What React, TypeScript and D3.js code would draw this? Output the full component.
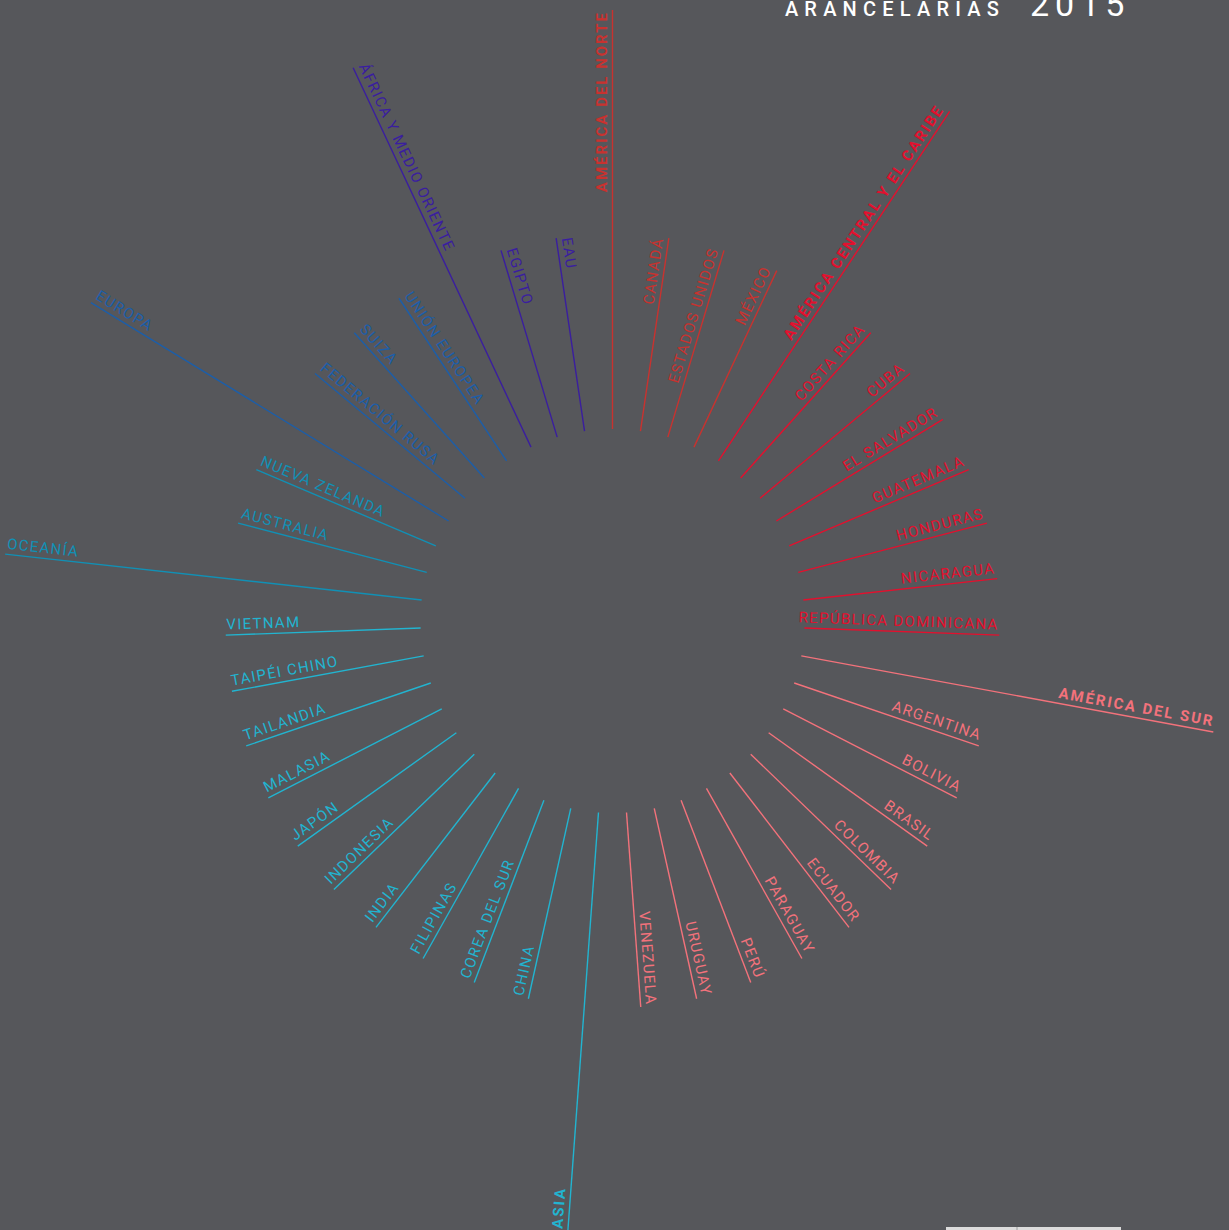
import React from 'react';
import * as d3 from 'd3';

// spokes, clockwise from the top
const labels = [
  'AMÉRICA DEL NORTE', 'CANADÁ', 'ESTADOS UNIDOS', 'MÉXICO',
  'AMÉRICA CENTRAL Y EL CARIBE', 'COSTA RICA', 'CUBA', 'EL SALVADOR', 'GUATEMALA',
  'HONDURAS', 'NICARAGUA', 'REPÚBLICA DOMINICANA',
  'AMÉRICA DEL SUR', 'ARGENTINA', 'BOLIVIA', 'BRASIL', 'COLOMBIA', 'ECUADOR',
  'PARAGUAY', 'PERÚ', 'URUGUAY', 'VENEZUELA',
  'ASIA', 'CHINA', 'COREA DEL SUR', 'FILIPINAS', 'INDIA', 'INDONESIA', 'JAPÓN',
  'MALASIA', 'TAILANDIA', 'TAIPÉI CHINO', 'VIETNAM',
  'OCEANÍA', 'AUSTRALIA', 'NUEVA ZELANDA',
  'EUROPA', 'FEDERACIÓN RUSA', 'SUIZA', 'UNIÓN EUROPEA',
  'ÁFRICA Y MEDIO ORIENTE', 'EGIPTO', 'EAU'
];

// 2 = region, 1 = country
const levels = [
  2, 1, 1, 1,
  2, 1, 1, 1, 1, 1, 1, 1,
  2, 1, 1, 1, 1, 1, 1, 1, 1, 1,
  2, 1, 1, 1, 1, 1, 1, 1, 1, 1, 1,
  2, 1, 1,
  2, 1, 1, 1,
  2, 1, 1
];

const groups = ['norte', 'central', 'sur', 'asia', 'oceania', 'europa', 'africa'];
const groupCounts = [4, 8, 10, 11, 3, 4, 3];
// region labels set in bold in the original
const boldGroups = ['norte', 'central', 'sur', 'asia'];

const spokeGroup: string[] = [];
groupCounts.forEach((n, gi) => {
  for (let k = 0; k < n; k++) spokeGroup.push(groups[gi]);
});

const W = 1229;
const H = 1230;
const cx = 612.5;
const cy = 621;
const innerR = 192;

function App() {
  const angle = d3.scaleBand<string>()
    .domain(labels)
    .range([0, 2 * Math.PI])
    .paddingInner(0)
    .paddingOuter(0);

  const radius = d3.scaleLinear().domain([1, 2]).range([387, 611]);

  const color = d3.scaleOrdinal<string, string>()
    .domain(groups)
    .range(['#c8322f', '#e3102e', '#f3727b', '#22b4d0', '#1190b5', '#1c5ea9', '#3a1e9f']);

  return (
    <svg width={W} height={H} style={{ position: 'absolute', left: 0, top: 0, display: 'block' }}
      fontFamily="Roboto, 'DejaVu Sans', sans-serif">
      <rect width={W} height={H} fill="#56575b" />

      <text x={1005} y={16} textAnchor="end" fill="#ffffff" fontSize={20} letterSpacing={6.2}
        fontWeight={500}>ARANCELARIAS</text>
      <text x={1030} y={16} fill="#ffffff" fontSize={34} letterSpacing={6}>2015</text>

      <g transform={`translate(${cx},${cy})`}>
        {labels.map((name, i) => {
          const a = angle(name)!;
          const deg = (a * 180) / Math.PI;
          const r = radius(levels[i]);
          const [x1, y1] = d3.pointRadial(a, innerR);
          const [x2, y2] = d3.pointRadial(a, r);
          const [tx, ty] = d3.pointRadial(a, r - 1);
          const right = a < Math.PI;
          const c = color(spokeGroup[i]);
          const region = levels[i] === 2;
          const bold = region && boldGroups.includes(spokeGroup[i]);
          return (
            <g key={name}>
              <line x1={x1} y1={y1} x2={x2} y2={y2} stroke={c} strokeWidth={1.4} />
              <text
                transform={`translate(${tx},${ty}) rotate(${right ? deg - 90 : deg - 270})`}
                dy={-5.5}
                textAnchor={right ? 'end' : 'start'}
                fill={c}
                fontSize={15}
                fontWeight={bold ? 700 : 400}
                letterSpacing={bold ? 2 : 1.3}
              >
                {name}
              </text>
            </g>
          );
        })}
      </g>

      <rect x={946} y={1227} width={175} height={3} fill="#dcdcdc" />
      <rect x={1016} y={1227} width={2} height={3} fill="#bdbdbd" />
    </svg>
  );
}

export default App;
